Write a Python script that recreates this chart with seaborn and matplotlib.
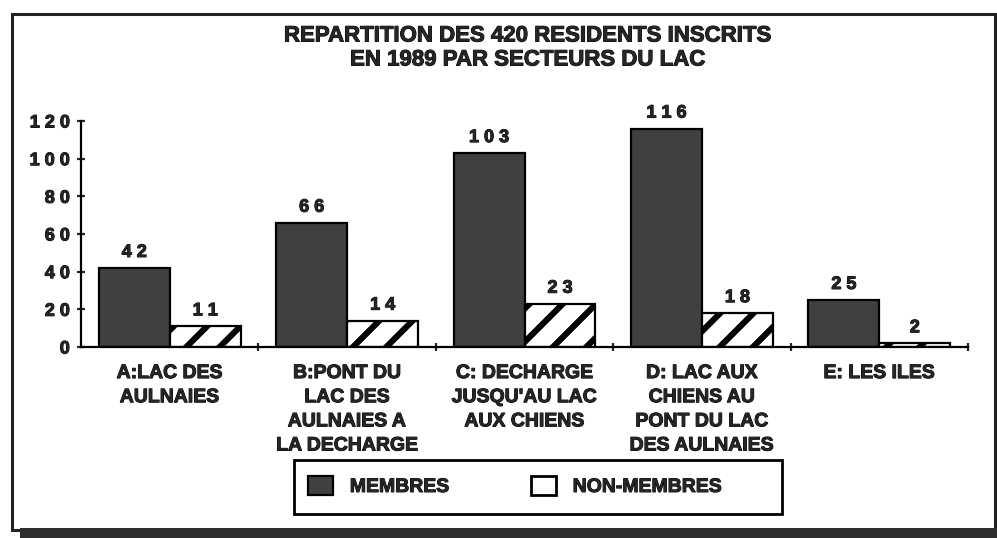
import matplotlib
matplotlib.use("Agg")
import matplotlib.pyplot as plt
from matplotlib.patches import Rectangle, Patch
import matplotlib.patheffects as pe
import seaborn as sns
import pandas as pd

# --- data -------------------------------------------------------------
secteurs = [
    "A:LAC DES\nAULNAIES",
    "B:PONT DU\nLAC DES\nAULNAIES A\nLA DECHARGE",
    "C: DECHARGE\nJUSQU'AU LAC\nAUX CHIENS",
    "D: LAC AUX\nCHIENS AU\nPONT DU LAC\nDES AULNAIES",
    "E: LES ILES",
]
membres = [42, 66, 103, 116, 25]
non_membres = [11, 14, 23, 18, 2]
statuts = ["MEMBRES", "NON-MEMBRES"]
y_ticks = [0, 20, 40, 60, 80, 100, 120]
titre = "REPARTITION DES 420 RESIDENTS INSCRITS\nEN 1989 PAR SECTEURS DU LAC"

df = pd.DataFrame({
    "secteur": secteurs * 2,
    "effectif": membres + non_membres,
    "statut": [statuts[0]] * len(secteurs) + [statuts[1]] * len(secteurs),
})

# --- style ------------------------------------------------------------
sns.set_style("white")
plt.rcParams["font.family"] = ["Liberation Sans", "DejaVu Sans"]
plt.rcParams["font.weight"] = "bold"
plt.rcParams["hatch.linewidth"] = 2.2

heavy = [pe.withStroke(linewidth=0.35, foreground="black")]

W, H = 997, 538
DPI = 200
fig = plt.figure(figsize=(W / DPI, H / DPI), dpi=DPI)
fig.patch.set_facecolor("white")

def fx(px):
    return px / W

def fy(py):
    return 1 - py / H

ax = fig.add_axes([fx(81), fy(347), fx(968) - fx(81), fy(121) - fy(347)])

dark = "#404040"
sns.barplot(
    data=df, x="secteur", y="effectif", hue="statut",
    palette=[dark, "white"], edgecolor="black", linewidth=0.8,
    saturation=1, width=0.8, legend=False, ax=ax,
)

# hatched non-members
for bar in ax.containers[1]:
    bar.set_hatch("//")
    bar.set_edgecolor("black")

# value labels with spaced digits
for cont, vals in zip(ax.containers, [membres, non_membres]):
    labels = ax.bar_label(cont, labels=[" ".join(str(v)) for v in vals],
                          padding=2.5, fontsize=6.5, fontweight="bold")
    for t in labels:
        t.set_path_effects(heavy)

ax.set_xlim(-0.5, 4.5)
ax.set_ylim(0, 120)
ax.set_xlabel("")
ax.set_ylabel("")

for s in ["top", "right"]:
    ax.spines[s].set_visible(False)
for s in ["left", "bottom"]:
    ax.spines[s].set_linewidth(0.8)
    ax.spines[s].set_color("black")

ax.set_yticks(y_ticks)
ax.set_yticklabels([" ".join(str(v)) for v in y_ticks], fontsize=6.5,
                   fontweight="bold")
ax.tick_params(axis="y", direction="inout", length=3, width=0.8,
               pad=2.5, left=True)

ax.set_xticks(range(len(secteurs)))
ax.set_xticklabels(secteurs, fontsize=7, fontweight="bold", linespacing=1.55)
ax.tick_params(axis="x", which="major", length=0, pad=6.5)
ax.set_xticks([i + 0.5 for i in range(len(secteurs))], minor=True)
ax.tick_params(axis="x", which="minor", direction="inout", length=3,
               width=0.8, bottom=True)

for t in ax.get_xticklabels() + ax.get_yticklabels():
    t.set_path_effects(heavy)

# title
for i, line in enumerate(titre.split("\n")):
    fig.text(fx(528), fy(36 + 24 * i), line, ha="center", va="center",
             fontsize=8, fontweight="bold", path_effects=heavy)

# legend box
fig.add_artist(Rectangle((fx(294), fy(514)), fx(782) - fx(294),
                         fy(460) - fy(514), transform=fig.transFigure,
                         fill=False, edgecolor="black", linewidth=1.0))
handles = [
    Patch(facecolor=dark, edgecolor="black", linewidth=0.8),
    Patch(facecolor="white", edgecolor="black", linewidth=1.0),
]
leg = fig.legend(handles, statuts, loc="center left",
                 bbox_to_anchor=(fx(308), fy(486)), frameon=False, ncol=2,
                 fontsize=7, handlelength=1.3, handleheight=1.1,
                 handletextpad=0.85, columnspacing=4.2, borderpad=0,
                 borderaxespad=0)
for t in leg.get_texts():
    t.set_path_effects(heavy)

# outer frame and bottom shadow
fig.add_artist(Rectangle((fx(12), fy(530)), fx(995) - fx(12),
                         fy(14) - fy(530), transform=fig.transFigure,
                         fill=False, edgecolor="#222222", linewidth=1.1))
fig.add_artist(Rectangle((fx(20), 0), 1 - fx(20), fy(528),
                         transform=fig.transFigure, facecolor="#2e2e2e",
                         edgecolor="none"))

fig.savefig("out.png", dpi=DPI, facecolor="white")
